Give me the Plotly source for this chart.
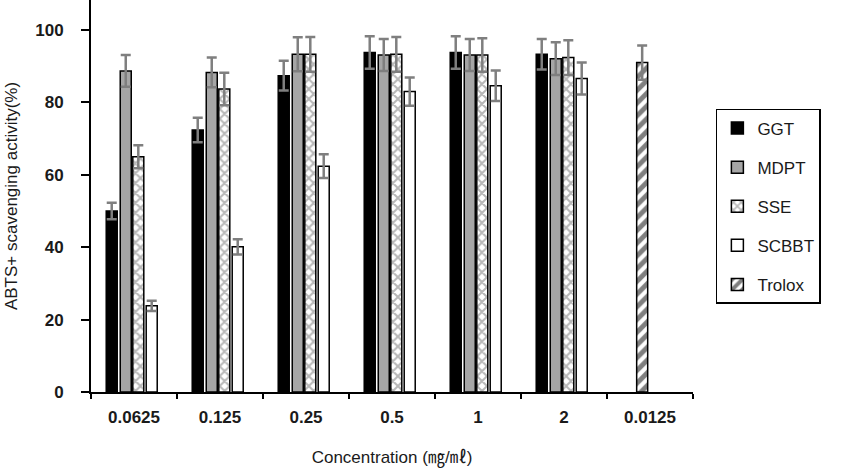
import plotly.graph_objects as go

categories = ["0.0625", "0.125", "0.25", "0.5", "1", "2", "0.0125"]
sample_cats = categories[:6]

ggt = [50.0, 72.4, 87.4, 93.8, 93.8, 93.3]
ggt_err = [2.3, 3.4, 4.1, 4.5, 4.5, 4.2]
mdpt = [88.7, 88.3, 93.3, 93.1, 93.1, 92.1]
mdpt_err = [4.4, 4.1, 4.7, 4.4, 4.4, 4.5]
sse = [65.0, 83.7, 93.3, 93.3, 93.1, 92.4]
sse_err = [3.2, 4.5, 4.8, 4.8, 4.6, 4.8]
scbbt = [23.8, 40.1, 62.4, 83.0, 84.6, 86.6]
scbbt_err = [1.4, 2.1, 3.3, 3.9, 4.2, 4.4]
trolox_cat = ["0.0125"]
trolox = [91.0]
trolox_err = [4.7]

y_ticks = [0, 20, 40, 60, 80, 100]

FONT = "Liberation Sans, Arial, Noto Sans CJK KR, sans-serif"
ERR_COLOR = "#7f7f7f"
W = 0.128


def err(vals):
    return dict(type="data", array=vals, visible=True, color=ERR_COLOR,
                thickness=2.5, width=5)


fig = go.Figure()
specs = [
    ("GGT", sample_cats, ggt, ggt_err, dict(color="#000000"), -0.323),
    ("MDPT", sample_cats, mdpt, mdpt_err, dict(color="#a6a6a6"), -0.160),
    ("SSE", sample_cats, sse, sse_err,
     dict(color="#ffffff", pattern=dict(shape="x", fgcolor="#707070", bgcolor="#ffffff",
                                        size=7, solidity=0.5)), -0.014),
    ("SCBBT", sample_cats, scbbt, scbbt_err, dict(color="#ffffff"), 0.142),
    ("Trolox", trolox_cat, trolox, trolox_err,
     dict(color="#ffffff", pattern=dict(shape="/", fgcolor="#000000", bgcolor="#ffffff",
                                        size=9, solidity=0.55)), -0.155),
]
for name, xs, ys, es, mk, off in specs:
    marker = dict(mk)
    marker["line"] = dict(color="#000000", width=1.5)
    fig.add_trace(go.Bar(
        name=name, x=xs, y=ys, error_y=err(es), marker=marker,
        width=W, offset=off, legendgroup=name,
    ))

fig.update_layout(
    width=848, height=468,
    margin=dict(l=91, r=155, t=0, b=76),
    paper_bgcolor="white", plot_bgcolor="white",
    barmode="overlay",
    font=dict(family=FONT, size=17, color="#1a1a1a"),
    showlegend=True,
    legend=dict(
        x=1.038, y=0.722, xanchor="left", yanchor="top",
        bordercolor="#000000", borderwidth=1.5, bgcolor="white",
        font=dict(family=FONT, size=17, color="#1a1a1a"),
        tracegroupgap=14, traceorder="grouped",
    ),
    xaxis=dict(
        type="category", categoryorder="array", categoryarray=categories,
        range=[-0.5, 6.5],
        showline=True, linecolor="#000000", linewidth=2,
        ticks="outside", tickson="boundaries", ticklen=5, tickwidth=1.5, tickcolor="#000000",
        ticklabelstandoff=9,
        tickfont=dict(family=FONT, size=17, color="#1a1a1a", weight="bold"),
        showgrid=False, zeroline=False,
        title=dict(text="Concentration (㎎/㎖)", font=dict(family=FONT, size=17, color="#1a1a1a"),
                   standoff=26),
    ),
    yaxis=dict(
        range=[0, 108.3], tickvals=y_ticks,
        showline=True, linecolor="#000000", linewidth=2,
        ticks="outside", ticklen=8, tickwidth=1.5, tickcolor="#000000",
        ticklabelstandoff=14,
        tickfont=dict(family=FONT, size=17, color="#1a1a1a", weight="bold"),
        showgrid=False, zeroline=False,
        title=dict(text="ABTS+ scavenging activity(%)", font=dict(family=FONT, size=17, color="#1a1a1a"),
                   standoff=13),
    ),
)

fig.write_html("out.html")
